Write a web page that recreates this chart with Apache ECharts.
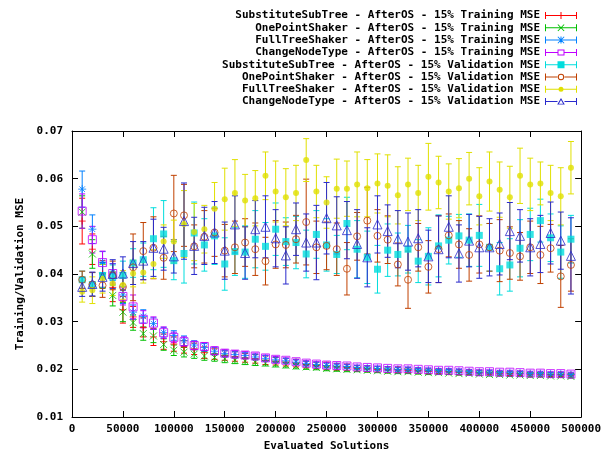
<!DOCTYPE html>
<html><head><meta charset="utf-8">
<script src="https://cdn.jsdelivr.net/npm/echarts@6/dist/echarts.min.js"></script>
<style>html,body{margin:0;padding:0;background:#fff}#c{width:604px;height:457px}</style>
</head><body><div id="c"></div><script>
// Evaluated solutions (x)
const xs = [10000,20000,30000,40000,50000,60000,70000,80000,90000,100000,
 110000,120000,130000,140000,150000,160000,170000,180000,190000,200000,
 210000,220000,230000,240000,250000,260000,270000,280000,290000,300000,
 310000,320000,330000,340000,350000,360000,370000,380000,390000,400000,
 410000,420000,430000,440000,450000,460000,470000,480000,490000];

// Training MSE means
const subTrain = [0.0511,0.0452,0.0400,0.0372,0.0325,0.0310,0.0288,0.0268,0.0258,0.0253,
 0.0247,0.0243,0.0235,0.0232,0.0229,0.0227,0.0224,0.0222,0.0219,0.0217,
 0.0215,0.0213,0.0210,0.0208,0.0207,0.0205,0.0204,0.0202,0.0201,0.0200,
 0.0199,0.0199,0.0198,0.0197,0.0196,0.0196,0.0195,0.0194,0.0194,0.0193,
 0.0193,0.0192,0.0191,0.0191,0.0190,0.0190,0.0189,0.0189,0.0188];
const oneTrain = [0.0530,0.0442,0.0395,0.0355,0.0320,0.0298,0.0275,0.0270,0.0252,0.0240,
 0.0236,0.0232,0.0228,0.0225,0.0222,0.0219,0.0217,0.0215,0.0213,0.0211,
 0.0209,0.0207,0.0205,0.0204,0.0202,0.0201,0.0200,0.0199,0.0198,0.0197,
 0.0196,0.0195,0.0195,0.0194,0.0193,0.0193,0.0192,0.0191,0.0191,0.0190,
 0.0189,0.0189,0.0188,0.0188,0.0187,0.0187,0.0186,0.0186,0.0185];
const fullTrain = [0.0578,0.0494,0.0425,0.0404,0.0356,0.0320,0.0311,0.0296,0.0277,0.0271,
 0.0260,0.0251,0.0246,0.0238,0.0233,0.0231,0.0229,0.0226,0.0223,0.0220,
 0.0218,0.0215,0.0212,0.0210,0.0208,0.0207,0.0206,0.0204,0.0203,0.0202,
 0.0201,0.0200,0.0200,0.0199,0.0198,0.0197,0.0197,0.0196,0.0195,0.0194,
 0.0194,0.0193,0.0193,0.0192,0.0191,0.0191,0.0190,0.0190,0.0189];
const cntTrain = [0.0532,0.0472,0.0424,0.0401,0.0353,0.0331,0.0305,0.0297,0.0277,0.0267,
 0.0258,0.0250,0.0248,0.0239,0.0234,0.0232,0.0230,0.0228,0.0224,0.0221,
 0.0219,0.0216,0.0213,0.0211,0.0209,0.0208,0.0207,0.0205,0.0204,0.0203,
 0.0202,0.0201,0.0201,0.0200,0.0199,0.0198,0.0198,0.0197,0.0196,0.0195,
 0.0195,0.0194,0.0194,0.0193,0.0192,0.0192,0.0191,0.0191,0.0190];

// Training MSE error (half bar length)
const subTrainErr = [0.0048,0.0032,0.0028,0.0030,0.0028,0.0022,0.0020,0.0018,0.0016,0.0015,
 0.0013,0.0012,0.0012,0.0011,0.0010,0.0010,0.0009,0.0009,0.0009,0.0008,
 0.0008,0.0008,0.0007,0.0007,0.0008,0.0007,0.0007,0.0006,0.0006,0.0006,
 0.0006,0.0006,0.0005,0.0005,0.0005,0.0005,0.0005,0.0005,0.0005,0.0005,
 0.0004,0.0004,0.0004,0.0004,0.0004,0.0004,0.0004,0.0004,0.0004];
const oneTrainErr = [0.0034,0.0030,0.0025,0.0022,0.0020,0.0016,0.0014,0.0014,0.0012,0.0011,
 0.0010,0.0009,0.0009,0.0008,0.0008,0.0007,0.0007,0.0007,0.0006,0.0006,
 0.0006,0.0006,0.0005,0.0005,0.0005,0.0005,0.0005,0.0004,0.0004,0.0004,
 0.0004,0.0004,0.0004,0.0004,0.0004,0.0004,0.0003,0.0003,0.0003,0.0003,
 0.0003,0.0003,0.0003,0.0003,0.0003,0.0003,0.0003,0.0003,0.0003];
const fullTrainErr = [0.0038,0.0030,0.0022,0.0018,0.0018,0.0015,0.0014,0.0012,0.0011,0.0010,
 0.0010,0.0009,0.0008,0.0008,0.0007,0.0007,0.0006,0.0006,0.0006,0.0006,
 0.0005,0.0005,0.0005,0.0005,0.0005,0.0004,0.0004,0.0004,0.0004,0.0004,
 0.0004,0.0004,0.0004,0.0003,0.0003,0.0003,0.0003,0.0003,0.0003,0.0003,
 0.0003,0.0003,0.0003,0.0003,0.0003,0.0003,0.0003,0.0003,0.0003];
const cntTrainErr = [0.0036,0.0028,0.0024,0.0020,0.0018,0.0025,0.0018,0.0013,0.0012,0.0011,
 0.0010,0.0009,0.0008,0.0008,0.0007,0.0007,0.0007,0.0006,0.0006,0.0006,
 0.0005,0.0005,0.0005,0.0005,0.0005,0.0005,0.0004,0.0004,0.0004,0.0004,
 0.0004,0.0004,0.0004,0.0004,0.0004,0.0004,0.0004,0.0004,0.0004,0.0004,
 0.0004,0.0004,0.0004,0.0004,0.0004,0.0004,0.0004,0.0004,0.0004];

// Validation MSE means
const subVal = [0.0388,0.0378,0.0397,0.0394,0.0397,0.0423,0.0430,0.0474,0.0484,0.0428,
 0.0443,0.0486,0.0461,0.0480,0.0421,0.0447,0.0446,0.0473,0.0458,0.0494,
 0.0468,0.0466,0.0442,0.0483,0.0461,0.0441,0.0506,0.0452,0.0435,0.0410,
 0.0450,0.0441,0.0452,0.0427,0.0437,0.0459,0.0471,0.0480,0.0471,0.0481,
 0.0456,0.0411,0.0419,0.0454,0.0483,0.0512,0.0476,0.0446,0.0473];
const oneVal = [0.0388,0.0378,0.0376,0.0397,0.0373,0.0414,0.0448,0.0455,0.0434,0.0527,
 0.0523,0.0458,0.0478,0.0487,0.0449,0.0456,0.0466,0.0452,0.0427,0.0462,
 0.0461,0.0473,0.0509,0.0456,0.0459,0.0452,0.0411,0.0479,0.0512,0.0480,
 0.0472,0.0420,0.0388,0.0456,0.0415,0.0452,0.0481,0.0462,0.0440,0.0462,
 0.0456,0.0449,0.0444,0.0437,0.0456,0.0440,0.0454,0.0395,0.0419];
const fullVal = [0.0363,0.0366,0.0390,0.0380,0.0377,0.0401,0.0403,0.0421,0.0468,0.0468,
 0.0505,0.0488,0.0494,0.0537,0.0557,0.0570,0.0554,0.0559,0.0606,0.0573,
 0.0561,0.0570,0.0639,0.0573,0.0550,0.0579,0.0579,0.0588,0.0580,0.0590,
 0.0585,0.0565,0.0588,0.0570,0.0604,0.0592,0.0573,0.0580,0.0600,0.0563,
 0.0594,0.0577,0.0561,0.0606,0.0588,0.0590,0.0570,0.0563,0.0623];
const cntVal = [0.0373,0.0379,0.0394,0.0400,0.0401,0.0423,0.0428,0.0455,0.0453,0.0437,
 0.0511,0.0459,0.0480,0.0487,0.0449,0.0504,0.0444,0.0494,0.0499,0.0475,
 0.0439,0.0494,0.0466,0.0466,0.0517,0.0502,0.0492,0.0463,0.0435,0.0504,
 0.0490,0.0473,0.0468,0.0475,0.0437,0.0452,0.0499,0.0443,0.0470,0.0456,
 0.0456,0.0463,0.0490,0.0480,0.0456,0.0463,0.0486,0.0470,0.0438];

// Validation MSE error (half bar length)
const subValErr = [0.0018,0.0025,0.0025,0.0025,0.0030,0.0030,0.0035,0.0065,0.0070,0.0040,
 0.0062,0.0065,0.0055,0.0060,0.0055,0.0050,0.0055,0.0060,0.0050,0.0055,
 0.0050,0.0055,0.0050,0.0050,0.0055,0.0040,0.0055,0.0060,0.0055,0.0050,
 0.0055,0.0045,0.0050,0.0045,0.0060,0.0065,0.0050,0.0045,0.0055,0.0065,
 0.0050,0.0055,0.0055,0.0060,0.0055,0.0045,0.0050,0.0055,0.0050];
const oneValErr = [0.0018,0.0025,0.0025,0.0030,0.0030,0.0070,0.0060,0.0065,0.0045,0.0080,
 0.0065,0.0045,0.0055,0.0050,0.0055,0.0055,0.0050,0.0055,0.0050,0.0050,
 0.0048,0.0050,0.0090,0.0055,0.0050,0.0055,0.0055,0.0050,0.0070,0.0055,
 0.0050,0.0045,0.0060,0.0050,0.0055,0.0070,0.0045,0.0050,0.0055,0.0060,
 0.0050,0.0065,0.0055,0.0050,0.0055,0.0060,0.0050,0.0065,0.0055];
const fullValErr = [0.0022,0.0028,0.0030,0.0025,0.0030,0.0028,0.0022,0.0030,0.0035,0.0045,
 0.0070,0.0060,0.0050,0.0055,0.0065,0.0070,0.0055,0.0058,0.0050,0.0064,
 0.0060,0.0058,0.0045,0.0055,0.0054,0.0062,0.0058,0.0068,0.0060,0.0062,
 0.0065,0.0060,0.0055,0.0058,0.0070,0.0055,0.0058,0.0062,0.0055,0.0060,
 0.0062,0.0058,0.0065,0.0058,0.0055,0.0045,0.0058,0.0060,0.0055];
const cntValErr = [0.0020,0.0025,0.0030,0.0030,0.0035,0.0045,0.0040,0.0060,0.0045,0.0035,
 0.0080,0.0060,0.0060,0.0065,0.0060,0.0060,0.0055,0.0060,0.0065,0.0060,
 0.0060,0.0055,0.0060,0.0078,0.0075,0.0060,0.0060,0.0072,0.0062,0.0060,
 0.0055,0.0060,0.0060,0.0060,0.0055,0.0070,0.0065,0.0060,0.0055,0.0065,
 0.0060,0.0065,0.0060,0.0055,0.0060,0.0060,0.0065,0.0060,0.0080];

const seriesNames = [
 'SubstituteSubTree - AfterOS - 15% Training MSE',
 'OnePointShaker - AfterOS - 15% Training MSE',
 'FullTreeShaker - AfterOS - 15% Training MSE',
 'ChangeNodeType - AfterOS - 15% Training MSE',
 'SubstituteSubTree - AfterOS - 15% Validation MSE',
 'OnePointShaker - AfterOS - 15% Validation MSE',
 'FullTreeShaker - AfterOS - 15% Validation MSE',
 'ChangeNodeType - AfterOS - 15% Validation MSE'
];
const yTicks = [0.01,0.02,0.03,0.04,0.05,0.06,0.07];

const FONT = 'DejaVu Sans Mono';
const lineFull = 'M0,3h32v1h-32z';
const lineSplit = 'M0,3h12.5v1h-12.5zM19.5,3h12.5v1h-12.5z';
const caps = 'M0,0h1v7h-1zM31,0h1v7h-1z';
const vbar = 'M15.5,0h1v7h-1z';
const xdiag = 'M12.5,0.5L13.2,0L19.5,6.5L18.8,7ZM18.8,0L19.5,0.5L13.2,7L12.5,6.5Z';

const styles = [
 {color:'#ff0000', symbol:'path://M0,5H10M5,0V10', size:7, open:true,
  icon:'path://'+caps+lineFull+vbar},
 {color:'#00c000', symbol:'path://M0,0L10,10M10,0L0,10', size:7, open:true,
  icon:'path://'+caps+lineFull+xdiag},
 {color:'#0080ff', symbol:'path://M0,5H10M5,0V10M1.5,1.5L8.5,8.5M8.5,1.5L1.5,8.5', size:8, open:true,
  icon:'path://'+caps+lineFull+vbar+xdiag},
 {color:'#c000ff', symbol:'rect', size:8, open:true,
  icon:'path://'+caps+lineSplit+'M12.5,0.5h7v6h-7zM13.5,1.5v4h5v-4z'},
 {color:'#00dddd', symbol:'rect', size:7, open:false,
  icon:'path://'+caps+lineFull+'M12.5,0h7v7h-7z'},
 {color:'#c04000', symbol:'circle', size:7, open:true,
  icon:'path://'+caps+lineSplit+'M19.2,3.5A3.2,3.2,0,1,1,12.8,3.5A3.2,3.2,0,1,1,19.2,3.5ZM18.2,3.5A2.2,2.2,0,1,0,13.8,3.5A2.2,2.2,0,1,0,18.2,3.5Z'},
 {color:'#e0e000', symbol:'circle', size:6, open:false,
  icon:'path://'+caps+lineFull+'M18.5,3.5A2.5,2.5,0,1,1,13.5,3.5A2.5,2.5,0,1,1,18.5,3.5Z'},
 {color:'#2a2acc', symbol:'triangle', size:9, open:true,
  icon:'path://'+caps+lineSplit+'M16,0L19.8,6.5L12.2,6.5ZM16,1.8L13.9,5.6L18.1,5.6Z'}
];
const means = [subTrain, oneTrain, fullTrain, cntTrain, subVal, oneVal, fullVal, cntVal];
const errs = [subTrainErr, oneTrainErr, fullTrainErr, cntTrainErr, subValErr, oneValErr, fullValErr, cntValErr];

function errRender(color) {
  return function (params, api) {
    const x = api.value(0), y = api.value(1), e = api.value(2);
    const hi = api.coord([x, y + e]);
    const lo = api.coord([x, y - e]);
    const hw = 3;
    const st = {stroke: color, lineWidth: 1, fill: null};
    return {type: 'group', children: [
      {type: 'line', shape: {x1: hi[0], y1: hi[1], x2: lo[0], y2: lo[1]}, style: st},
      {type: 'line', shape: {x1: hi[0]-hw, y1: hi[1], x2: hi[0]+hw, y2: hi[1]}, style: st},
      {type: 'line', shape: {x1: lo[0]-hw, y1: lo[1], x2: lo[0]+hw, y2: lo[1]}, style: st}
    ]};
  };
}

const series = [];
seriesNames.forEach((name, k) => {
  const s = styles[k];
  series.push({
    type: 'custom', name: name, silent: true, clip: true,
    itemStyle: {color: s.color},
    renderItem: errRender(s.color),
    encode: {x: 0, y: 1},
    data: xs.map((x, i) => [x, means[k][i], errs[k][i]])
  });
  series.push({
    type: 'scatter', name: name, silent: true,
    symbol: s.symbol, symbolSize: s.size,
    itemStyle: s.open ? {color: 'rgba(0,0,0,0)', borderColor: s.color, borderWidth: 1}
                      : {color: s.color, borderWidth: 0},
    emphasis: {disabled: true},
    data: xs.map((x, i) => [x, means[k][i]])
  });
});

const legends = seriesNames.map((name, k) => ({
  right: 27, top: 10 + k * 12.3, padding: 0, itemGap: 0, align: 'right',
  itemWidth: 32, itemHeight: 7, selectedMode: false,
  textStyle: {fontFamily: FONT, fontWeight: 'bold', fontSize: 11, color: '#000'},
  data: [{name: name, icon: styles[k].icon, itemStyle: {color: styles[k].color, borderWidth: 0}}]
}));

const labelStyle = {fontFamily: FONT, fontWeight: 'bold', fontSize: 11, color: '#000'};
const chart = echarts.init(document.getElementById('c'), null, {renderer: 'canvas'});
chart.setOption({
  backgroundColor: '#fff',
  animation: false,
  legend: legends,
  grid: {left: 72, right: 22, top: 131, bottom: 36, containLabel: false},
  xAxis: [
    {type: 'value', min: 0, max: 500000, interval: 50000, position: 'bottom',
     name: 'Evaluated Solutions', nameLocation: 'middle', nameGap: 24,
     nameTextStyle: labelStyle,
     axisLine: {show: true, onZero: false, lineStyle: {color: '#000', width: 1}},
     axisTick: {show: true, inside: true, length: 6, lineStyle: {color: '#000'}},
     axisLabel: Object.assign({margin: 7, showMaxLabel: true, showMinLabel: true, formatter: v => String(v)}, labelStyle),
     splitLine: {show: false}},
    {type: 'value', min: 0, max: 500000, interval: 50000, position: 'top',
     axisLine: {show: true, onZero: false, lineStyle: {color: '#000', width: 1}},
     axisTick: {show: true, inside: true, length: 6, lineStyle: {color: '#000'}},
     axisLabel: {show: false}, splitLine: {show: false}}
  ],
  yAxis: [
    {type: 'value', min: yTicks[0], max: yTicks[yTicks.length-1], interval: 0.01, position: 'left',
     name: 'Training/Validation MSE', nameLocation: 'middle', nameGap: 46,
     nameTextStyle: labelStyle,
     axisLine: {show: true, onZero: false, lineStyle: {color: '#000', width: 1}},
     axisTick: {show: true, inside: true, length: 6, lineStyle: {color: '#000'}},
     axisLabel: Object.assign({margin: 9, formatter: v => v.toFixed(2)}, labelStyle),
     splitLine: {show: false}},
    {type: 'value', min: yTicks[0], max: yTicks[yTicks.length-1], interval: 0.01, position: 'right',
     axisLine: {show: true, onZero: false, lineStyle: {color: '#000', width: 1}},
     axisTick: {show: true, inside: true, length: 6, lineStyle: {color: '#000'}},
     axisLabel: {show: false}, splitLine: {show: false}}
  ],
  series: series
});
</script></body></html>
